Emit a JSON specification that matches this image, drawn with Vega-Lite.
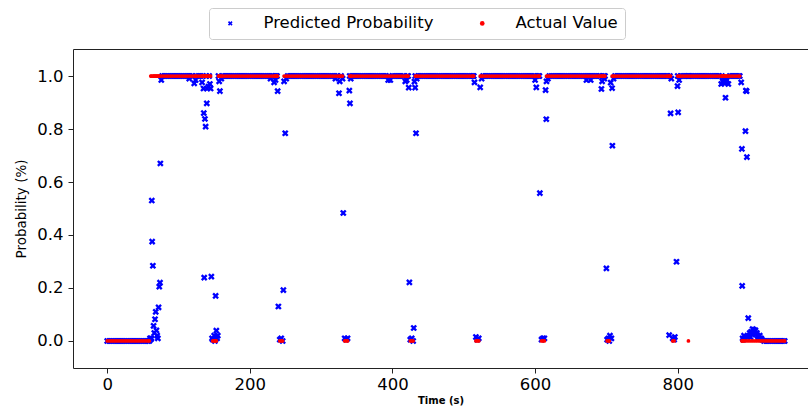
{
"$schema": "https://vega.github.io/schema/vega-lite/v6.json",
"width": 735,
"height": 319,
"autosize": {"type": "none"},
"padding": {"left": 73, "top": 49, "right": 0, "bottom": 40},
"config": {
  "font": "DejaVu Sans",
  "view": {"stroke": null},
  "axis": {"domainColor": "#222222", "tickColor": "#222222", "labelColor": "#000000", "titleColor": "#000000", "grid": false, "domainWidth": 1}
},
"data": {"values": [
{"t":0,"p":0,"a":0},{"t":3,"p":0,"a":0},{"t":6,"p":0,"a":0},{"t":9,"p":0,"a":0},{"t":12,"p":0,"a":0},{"t":15,"p":0,"a":0},{"t":18,"p":0,"a":0},{"t":21,"p":0,"a":0},{"t":24,"p":0,"a":0},{"t":27,"p":0,"a":0},{"t":30,"p":0,"a":0},{"t":33,"p":0,"a":0},{"t":36,"p":0,"a":0},{"t":39,"p":0,"a":0},{"t":42,"p":0,"a":0},{"t":45,"p":0,"a":0},{"t":48,"p":0,"a":0},{"t":51,"p":0,"a":0},{"t":54,"p":0,"a":0},{"t":57,"p":0,"a":0},{"t":59,"p":0,"a":0},
{"t":60,"p":0.01},{"t":61,"p":0.006,"a":1},{"t":62,"p":0.01,"a":1},{"t":62.5,"p":0.53},{"t":63,"p":0.375},{"t":64,"p":0.284,"a":1},{"t":65,"p":0.057,"a":1},{"t":66,"p":0.03,"a":1},{"t":67,"p":0.082,"a":1},{"t":68,"p":0.11,"a":1},{"t":69,"p":0.04,"a":1},{"t":70,"p":0.02,"a":1},{"t":71,"p":0.01,"a":1},{"t":72,"p":0.127,"a":1},{"t":73,"p":0.205,"a":1},{"t":74,"p":0.22,"a":1},{"t":74.5,"p":0.67},{"t":75.8,"p":0.985},{"t":77,"p":1,"a":1},
{"t":80,"p":1,"a":1},{"t":83,"p":1,"a":1},{"t":86,"p":1,"a":1},{"t":89,"p":1,"a":1},{"t":92,"p":1,"a":1},{"t":95,"p":1,"a":1},{"t":98,"p":1,"a":1},{"t":101,"p":1,"a":1},{"t":104,"p":1,"a":1},{"t":107,"p":1,"a":1},{"t":110,"p":1,"a":1},{"t":113,"p":1,"a":1},{"t":115,"p":0.99},{"t":116,"p":1,"a":1},{"t":119,"p":1,"a":1},
{"t":122,"p":0.972,"a":1},{"t":124,"p":0.985,"a":1},{"t":125,"p":1,"a":1},{"t":128,"p":1,"a":1},{"t":131,"p":1,"a":1},{"t":133,"p":0.976,"a":1},{"t":134,"p":1,"a":1},{"t":135,"p":0.953,"a":1},{"t":135.4,"p":0.86},{"t":136,"p":0.239,"a":1},{"t":137,"p":0.838,"a":1},{"t":138,"p":0.809,"a":1},{"t":139,"p":1,"a":1},{"t":139.6,"p":0.897},{"t":140,"p":0.953,"a":1},{"t":142,"p":0.96,"a":1},{"t":143,"p":1,"a":1},{"t":144,"p":0.97,"a":1},{"t":145,"p":0.953,"a":1},
{"t":146,"p":0.243},{"t":147,"p":0.01},{"t":148,"p":0.005,"a":0},{"t":150,"p":0.02,"a":0},{"t":151,"p":0,"a":0},{"t":152,"p":0.17,"a":0},{"t":153,"p":0.039,"a":0},{"t":154,"p":0.01},{"t":155,"p":0.02},
{"t":156,"p":1,"a":1},{"t":157,"p":0.98,"a":1},{"t":158,"p":0.943,"a":1},{"t":160,"p":0.99,"a":1},{"t":162,"p":1,"a":1},{"t":165,"p":1,"a":1},{"t":168,"p":1,"a":1},{"t":171,"p":1,"a":1},{"t":174,"p":1,"a":1},{"t":177,"p":1,"a":1},{"t":180,"p":1,"a":1},{"t":183,"p":1,"a":1},{"t":186,"p":1,"a":1},{"t":189,"p":1,"a":1},{"t":192,"p":1,"a":1},{"t":195,"p":1,"a":1},{"t":198,"p":1,"a":1},{"t":201,"p":1,"a":1},{"t":204,"p":1,"a":1},{"t":207,"p":1,"a":1},{"t":210,"p":1,"a":1},{"t":213,"p":1,"a":1},{"t":216,"p":1,"a":1},{"t":219,"p":1,"a":1},{"t":222,"p":1,"a":1},{"t":225,"p":1,"a":1},{"t":228,"p":1,"a":1},{"t":229,"p":0.99},{"t":231,"p":1,"a":1},
{"t":234,"p":0.976,"a":1},{"t":235,"p":1,"a":1},{"t":236,"p":0.985,"a":1},{"t":237,"p":1,"a":1},{"t":238,"p":1,"a":1},{"t":239,"p":0.943,"a":1},{"t":240,"p":0.13},{"t":242,"p":0.005,"a":0},{"t":244,"p":0.01,"a":0},{"t":246,"p":0,"a":0},{"t":247,"p":0.192},{"t":248,"p":0.98,"a":1},{"t":249.6,"p":0.784},{"t":251,"p":0.99,"a":1},
{"t":253,"p":1,"a":1},{"t":256,"p":1,"a":1},{"t":259,"p":1,"a":1},{"t":262,"p":1,"a":1},{"t":265,"p":1,"a":1},{"t":268,"p":1,"a":1},{"t":271,"p":1,"a":1},{"t":274,"p":1,"a":1},{"t":277,"p":1,"a":1},{"t":280,"p":1,"a":1},{"t":283,"p":1,"a":1},{"t":286,"p":1,"a":1},{"t":289,"p":1,"a":1},{"t":292,"p":1,"a":1},{"t":295,"p":1,"a":1},{"t":298,"p":1,"a":1},{"t":301,"p":1,"a":1},{"t":304,"p":1,"a":1},{"t":307,"p":1,"a":1},{"t":310,"p":1,"a":1},{"t":313,"p":1,"a":1},{"t":316,"p":1,"a":1},{"t":319,"p":1,"a":1},{"t":320,"p":0.99},{"t":322,"p":1,"a":1},
{"t":325,"p":0.935,"a":1},{"t":326,"p":0.98,"a":1},{"t":328,"p":1,"a":1},{"t":330,"p":0.99,"a":1},{"t":331,"p":0.483},{"t":333,"p":0.01,"a":0},{"t":335,"p":0.005,"a":0},{"t":337,"p":0.01,"a":0},{"t":339.5,"p":0.945},{"t":340,"p":1,"a":1},{"t":340.4,"p":0.897},{"t":341.5,"p":0.99,"a":1},
{"t":343,"p":1,"a":1},{"t":346,"p":1,"a":1},{"t":349,"p":1,"a":1},{"t":352,"p":1,"a":1},{"t":355,"p":1,"a":1},{"t":358,"p":1,"a":1},{"t":361,"p":1,"a":1},{"t":364,"p":1,"a":1},{"t":367,"p":1,"a":1},{"t":370,"p":1,"a":1},{"t":373,"p":1,"a":1},{"t":376,"p":1,"a":1},{"t":379,"p":1,"a":1},{"t":382,"p":1,"a":1},{"t":385,"p":1,"a":1},{"t":388,"p":1,"a":1},{"t":391,"p":1,"a":1},{"t":394,"p":0.985,"a":1},{"t":395,"p":1},{"t":397,"p":0.985,"a":1},{"t":400,"p":1,"a":1},{"t":403,"p":1,"a":1},{"t":406,"p":1,"a":1},{"t":409,"p":1,"a":1},{"t":412,"p":1,"a":1},{"t":415,"p":1,"a":1},
{"t":418,"p":0.98,"a":1},{"t":420,"p":0.985,"a":1},{"t":421,"p":1,"a":1},{"t":422,"p":1,"a":1},{"t":422.8,"p":0.956},{"t":423.7,"p":0.221},{"t":425,"p":0.005,"a":0},{"t":427,"p":0.01,"a":0},{"t":429,"p":0,"a":0},{"t":429.8,"p":0.049},{"t":430.8,"p":0.979},{"t":431.8,"p":0.956},{"t":432,"p":1,"a":1},{"t":433,"p":0.784},{"t":434,"p":0.99,"a":1},
{"t":436,"p":1,"a":1},{"t":439,"p":1,"a":1},{"t":442,"p":1,"a":1},{"t":445,"p":1,"a":1},{"t":448,"p":1,"a":1},{"t":451,"p":1,"a":1},{"t":454,"p":1,"a":1},{"t":457,"p":1,"a":1},{"t":460,"p":1,"a":1},{"t":463,"p":1,"a":1},{"t":466,"p":1,"a":1},{"t":469,"p":1,"a":1},{"t":472,"p":1,"a":1},{"t":475,"p":1,"a":1},{"t":478,"p":1,"a":1},{"t":481,"p":1,"a":1},{"t":484,"p":1,"a":1},{"t":487,"p":1,"a":1},{"t":490,"p":1,"a":1},{"t":493,"p":1,"a":1},{"t":496,"p":1,"a":1},{"t":499,"p":1,"a":1},{"t":502,"p":1,"a":1},{"t":505,"p":1,"a":1},{"t":508,"p":1,"a":1},{"t":511,"p":1,"a":1},
{"t":513,"p":1,"a":1},{"t":514,"p":1,"a":1},{"t":515,"p":0.976},{"t":517,"p":0.015,"a":0},{"t":519,"p":0.005,"a":0},{"t":521,"p":0.01,"a":0},{"t":523,"p":0.957,"a":1},{"t":525,"p":0.99,"a":1},
{"t":527,"p":1,"a":1},{"t":530,"p":1,"a":1},{"t":533,"p":1,"a":1},{"t":536,"p":1,"a":1},{"t":539,"p":1,"a":1},{"t":542,"p":1,"a":1},{"t":545,"p":1,"a":1},{"t":548,"p":1,"a":1},{"t":551,"p":1,"a":1},{"t":554,"p":1,"a":1},{"t":557,"p":1,"a":1},{"t":560,"p":1,"a":1},{"t":563,"p":1,"a":1},{"t":566,"p":1,"a":1},{"t":569,"p":1,"a":1},{"t":572,"p":1,"a":1},{"t":575,"p":1,"a":1},{"t":578,"p":1,"a":1},{"t":581,"p":1,"a":1},{"t":584,"p":1,"a":1},{"t":587,"p":1,"a":1},{"t":590,"p":1,"a":1},{"t":593,"p":1,"a":1},{"t":596,"p":1,"a":1},{"t":599,"p":1,"a":1},
{"t":600,"p":0.985,"a":1},{"t":601.7,"p":0.957},{"t":603,"p":1,"a":1},{"t":605,"p":1,"a":1},{"t":606,"p":1,"a":1},{"t":606.7,"p":0.558},{"t":609,"p":0.005,"a":0},{"t":611,"p":0.01,"a":0},{"t":613,"p":0.01,"a":0},{"t":614.7,"p":0.947},{"t":615.7,"p":0.837},{"t":616,"p":0.98,"a":1},{"t":618,"p":0.99,"a":1},
{"t":620,"p":1,"a":1},{"t":623,"p":1,"a":1},{"t":626,"p":1,"a":1},{"t":629,"p":1,"a":1},{"t":632,"p":1,"a":1},{"t":635,"p":1,"a":1},{"t":638,"p":1,"a":1},{"t":641,"p":1,"a":1},{"t":644,"p":1,"a":1},{"t":647,"p":1,"a":1},{"t":650,"p":1,"a":1},{"t":653,"p":1,"a":1},{"t":656,"p":1,"a":1},{"t":659,"p":1,"a":1},{"t":662,"p":1,"a":1},{"t":665,"p":1,"a":1},{"t":668,"p":1,"a":1},{"t":671,"p":1,"a":1},{"t":672,"p":0.985},{"t":674,"p":1,"a":1},{"t":677,"p":1,"a":1},{"t":678,"p":0.985},{"t":680,"p":1,"a":1},{"t":683,"p":1,"a":1},{"t":686,"p":1,"a":1},{"t":689,"p":1,"a":1},
{"t":691,"p":1,"a":1},{"t":693,"p":0.951,"a":1},{"t":694,"p":0.98,"a":1},{"t":696,"p":1,"a":1},{"t":697,"p":0.99,"a":1},{"t":698,"p":1,"a":1},{"t":700,"p":0.274},{"t":701,"p":0.005,"a":0},{"t":703,"p":0.01,"a":0},{"t":704,"p":0,"a":0},{"t":705,"p":0.02},{"t":706,"p":0.975},{"t":707,"p":0.01},{"t":708,"p":0.954,"a":1},{"t":708.4,"p":0.737},{"t":710,"p":0.99,"a":1},
{"t":712,"p":1,"a":1},{"t":715,"p":1,"a":1},{"t":718,"p":1,"a":1},{"t":721,"p":1,"a":1},{"t":724,"p":1,"a":1},{"t":727,"p":1,"a":1},{"t":730,"p":1,"a":1},{"t":733,"p":1,"a":1},{"t":736,"p":1,"a":1},{"t":739,"p":1,"a":1},{"t":742,"p":1,"a":1},{"t":745,"p":1,"a":1},{"t":748,"p":1,"a":1},{"t":751,"p":1,"a":1},{"t":754,"p":1,"a":1},{"t":757,"p":1,"a":1},{"t":760,"p":1,"a":1},{"t":763,"p":1,"a":1},{"t":766,"p":1,"a":1},{"t":769,"p":1,"a":1},{"t":772,"p":1,"a":1},{"t":775,"p":1,"a":1},{"t":778,"p":1,"a":1},{"t":781,"p":1,"a":1},{"t":784,"p":1,"a":1},
{"t":786,"p":1,"a":1},{"t":788,"p":0.022,"a":1},{"t":789,"p":1,"a":1},{"t":790,"p":0.859,"a":1},{"t":791,"p":0.99},{"t":793,"p":0.01,"a":0},{"t":795,"p":0.005,"a":0},{"t":796,"p":0.015},{"t":798.3,"p":0.299},{"t":799.7,"p":0.962},{"t":800,"p":1,"a":1},{"t":800.6,"p":0.863},{"t":802,"p":0.985,"a":1},
{"t":804,"p":1,"a":1},{"t":807,"p":1,"a":1},{"t":810,"p":1,"a":1},{"t":813,"p":1,"a":1},{"t":815,"p":1,"a":0},{"t":816,"p":1,"a":1},{"t":819,"p":1,"a":1},{"t":822,"p":1,"a":1},{"t":825,"p":1,"a":1},{"t":828,"p":1,"a":1},{"t":831,"p":1,"a":1},{"t":834,"p":1,"a":1},{"t":837,"p":1,"a":1},{"t":840,"p":1,"a":1},{"t":843,"p":1,"a":1},{"t":846,"p":1,"a":1},{"t":849,"p":1,"a":1},{"t":852,"p":1,"a":1},{"t":855,"p":1,"a":1},{"t":858,"p":1,"a":1},
{"t":861,"p":0.97,"a":1},{"t":862,"p":1,"a":1},{"t":863,"p":0.98,"a":1},{"t":864,"p":0.975,"a":1},{"t":865,"p":0.985,"a":1},{"t":866,"p":0.975,"a":1},{"t":867,"p":0.918,"a":1},{"t":868,"p":0.98,"a":1},{"t":869,"p":0.985,"a":1},{"t":871,"p":0.97,"a":1},{"t":873,"p":1,"a":1},{"t":876,"p":1,"a":1},{"t":879,"p":1,"a":1},{"t":882,"p":1,"a":1},{"t":885,"p":1,"a":1},{"t":887,"p":1,"a":1},
{"t":889,"p":0.976},{"t":890,"p":0.725,"a":0},{"t":890.4,"p":0.208},{"t":891,"p":0.01,"a":0},{"t":892,"p":0.005,"a":0},{"t":893,"p":0.02},{"t":894,"p":0.01,"a":0},{"t":895,"p":0.792},{"t":895.6,"p":0.945},{"t":896.6,"p":0.943},{"t":897,"p":0.694,"a":0},{"t":898,"p":0.015},{"t":898.9,"p":0.086},{"t":900,"p":0.02,"a":0},{"t":901,"p":0.03},{"t":902,"p":0.015},{"t":903,"p":0.035,"a":0},{"t":904,"p":0.025},{"t":905,"p":0.045},{"t":906,"p":0.03,"a":0},{"t":907,"p":0.042},{"t":908,"p":0.035},{"t":909,"p":0.04,"a":0},{"t":910,"p":0.025},{"t":911,"p":0.03},{"t":912,"p":0.02,"a":0},{"t":913,"p":0.015},{"t":914,"p":0.01},{"t":915,"p":0.02,"a":0},{"t":917,"p":0.01},{"t":918,"p":0.005,"a":0},
{"t":921,"p":0,"a":0},{"t":924,"p":0,"a":0},{"t":927,"p":0,"a":0},{"t":930,"p":0,"a":0},{"t":933,"p":0,"a":0},{"t":936,"p":0,"a":0},{"t":939,"p":0,"a":0},{"t":942,"p":0,"a":0},{"t":945,"p":0,"a":0},{"t":948,"p":0,"a":0},{"t":950,"p":0,"a":0}
]},
"layer": [
  {
    "mark": {"type": "point", "filled": true, "opacity": 1, "size": 44, "strokeWidth": 0},
    "encoding": {
      "x": {"field": "t", "type": "quantitative",
            "scale": {"domain": [-48, 982.7], "nice": false, "zero": false},
            "axis": {"orient": "bottom", "values": [0, 200, 400, 600, 800], "title": "Time (s)", "titleFontSize": 10, "titleFontWeight": "bold", "labelFontSize": 16.5, "tickSize": 5, "labelPadding": 3, "titlePadding": 3, "labelFlush": false}},
      "y": {"field": "p", "type": "quantitative",
            "scale": {"domain": [-0.102, 1.102], "nice": false, "zero": false},
            "axis": {"values": [0, 0.2, 0.4, 0.6, 0.8, 1], "format": ".1f", "title": "Probability (%)", "titleFontSize": 13.5, "titleFontWeight": "normal", "labelFontSize": 16.5, "tickSize": 5, "labelPadding": 5, "titlePadding": 8}},
      "color": {"datum": "Predicted Probability", "type": "nominal",
                "scale": {"domain": ["Predicted Probability", "Actual Value"], "range": ["#0000ff", "#ff0000"]},
                "legend": {"orient": "none", "legendX": 136, "legendY": -41, "direction": "horizontal", "title": null, "labelFontSize": 16.5, "labelLimit": 400, "labelColor": "#000000", "strokeColor": "#cccccc", "fillColor": "#ffffff", "cornerRadius": 3, "padding": 7, "columnPadding": 34, "labelOffset": 25, "symbolOffset": 6, "symbolSize": 22, "symbolStrokeWidth": 0}},
      "shape": {"datum": "Predicted Probability", "type": "nominal",
                "scale": {"domain": ["Predicted Probability", "Actual Value"], "range": ["M-1,-0.5L-0.5,-1L0,-0.5L0.5,-1L1,-0.5L0.5,0L1,0.5L0.5,1L0,0.5L-0.5,1L-1,0.5L-0.5,0Z", "circle"]}}
    }
  },
  {
    "mark": {"type": "point", "filled": true, "opacity": 1, "size": 14, "strokeWidth": 0},
    "encoding": {
      "x": {"field": "t", "type": "quantitative",
            "axis": {"orient": "top", "labels": false, "ticks": false, "title": null, "domain": true}},
      "y": {"field": "a", "type": "quantitative", "axis": {"title": "Probability (%)"}},
      "color": {"datum": "Actual Value", "type": "nominal"},
      "shape": {"datum": "Actual Value", "type": "nominal"}
    }
  }
],
"resolve": {"axis": {"x": "independent"}}
}
